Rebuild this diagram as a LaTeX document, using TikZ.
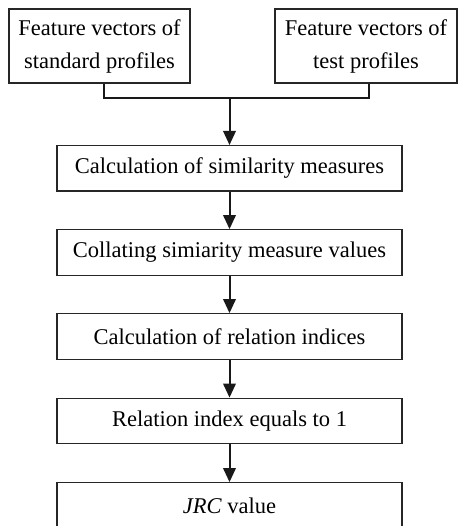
\documentclass[tikz,border=0pt]{standalone}
\usepackage{fontspec}
\setmainfont{Liberation Serif}
\usetikzlibrary{arrows.meta}
\tikzset{
  box/.style={draw=black!85, line width=1.3pt, rectangle, inner sep=0pt, align=center,
    font=\fontsize{22.5}{33}\selectfont},
  flowbox/.style={box, minimum width=345pt, minimum height=45.5pt},
  topbox/.style={box, minimum height=74pt},
  conn/.style={draw=black!90, line width=2pt},
  arr/.style={conn, -{Triangle[length=14pt,width=12.5pt]}}
}
\begin{document}
\begin{tikzpicture}[x=1pt,y=-1pt]
\useasboundingbox (0,0) rectangle (458,526);
\begin{scope}
\clip (0,0) rectangle (458,526);
\node[topbox, minimum width=181pt] (L) at (99.5,46) {Feature vectors of\\standard profiles};
\node[topbox, minimum width=182pt] (R) at (366,46) {Feature vectors of\\test profiles};
\node[flowbox] (b1) at (229.5,168.4) {Calculation of similarity measures};
\node[flowbox] (b2) at (229.5,252.5) {Collating simiarity measure values};
\node[flowbox] (b3) at (229.5,336.5) {Calculation of relation indices};
\node[flowbox] (b4) at (229.5,421) {Relation index equals to 1};
\node[flowbox] (b5) at (229.5,505.5) {\textit{JRC} value};
\coordinate (j) at (229.5,98);
\draw[conn] ([xshift=4.5pt]L.south) |- (j) -| ([xshift=3pt]R.south);
\draw[arr] (j) -- (b1.north);
\draw[arr] (b1) -- (b2);
\draw[arr] (b2) -- (b3);
\draw[arr] (b3) -- (b4);
\draw[arr] (b4) -- (b5);
\end{scope}
\end{tikzpicture}
\end{document}
